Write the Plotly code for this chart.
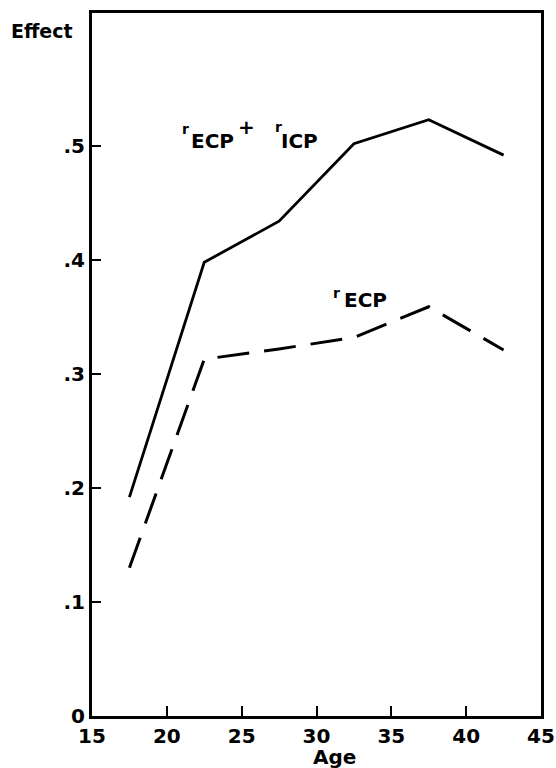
import plotly.graph_objects as go

# ---- data ----
ages = [17.5, 22.5, 27.5, 32.5, 37.5, 42.5]
effect_total = [0.192, 0.398, 0.434, 0.502, 0.523, 0.492]   # r_ECP + r_ICP (solid)
effect_ecp = [0.130, 0.313, 0.322, 0.332, 0.359, 0.321]     # r_ECP (dashed)
x_ticks = [15, 20, 25, 30, 35, 40, 45]
x_tick_labels = ["15", "20", "25", "30", "35", "40", "45"]
y_ticks = [0, 0.1, 0.2, 0.3, 0.4, 0.5]
y_tick_labels = ["0", ".1", ".2", ".3", ".4", ".5"]

FONT = "DejaVu Sans"
W, H = 556, 768
L, R, T, B = 92, 15, 13, 52
X0, X1 = 15, 45
Y0, Y1 = 0, (H - T - B) / 1140.0

def pxpaper(px):
    return (px - L) / (W - L - R)

def pypaper(py):
    return (H - B - py) / (H - T - B)

fig = go.Figure()
fig.add_trace(go.Scatter(x=ages, y=effect_total, mode="lines",
                         line=dict(color="black", width=2.8),
                         name="rECP + rICP", showlegend=False))
fig.add_trace(go.Scatter(x=ages, y=effect_ecp, mode="lines",
                         line=dict(color="black", width=3, dash="32px,15px"),
                         name="rECP", showlegend=False))

def txt(s, px, py, size, anchor="left"):
    fig.add_annotation(x=pxpaper(px), y=pypaper(py), xref="paper", yref="paper", text=s,
                       showarrow=False, xanchor=anchor, yanchor="middle",
                       font=dict(family=FONT, size=size, color="black", weight="bold"),
                       borderpad=0)

# upper label: r_ECP + r_ICP
txt("r", 181, 129, 14)
txt("ECP", 190, 140.5, 20)
txt("+", 237, 126.5, 20)
txt("r", 274, 127, 14)
txt("ICP", 280, 140.5, 20)
# lower label: r_ECP
txt("r", 332, 292.5, 14)
txt("ECP", 343, 300, 20)
# axis titles
txt("Effect", 10, 30.5, 19)
txt("Age", 334, 757, 20, anchor="center")

fig.update_layout(
    width=W, height=H,
    margin=dict(l=L, r=R, t=T, b=B, pad=0, autoexpand=False),
    paper_bgcolor="white", plot_bgcolor="white",
    font=dict(family=FONT, size=20, color="black", weight="bold"),
    showlegend=False,
)
fig.update_xaxes(range=[X0, X1], tickmode="array", tickvals=x_ticks, ticktext=x_tick_labels,
                 ticks="inside", ticklen=10, tickwidth=2, tickcolor="black",
                 showline=True, linecolor="black", linewidth=2.5, mirror=True,
                 showgrid=False, zeroline=False, automargin=False,
                 tickfont=dict(family=FONT, size=20, color="black", weight="bold"))
fig.update_yaxes(range=[Y0, Y1], tickmode="array", tickvals=y_ticks, ticktext=y_tick_labels,
                 ticks="inside", ticklen=9, tickwidth=2, tickcolor="black",
                 showline=True, linecolor="black", linewidth=3, mirror=True,
                 showgrid=False, zeroline=False, automargin=False,
                 tickfont=dict(family=FONT, size=20, color="black", weight="bold"))

fig.write_html("out.html")
